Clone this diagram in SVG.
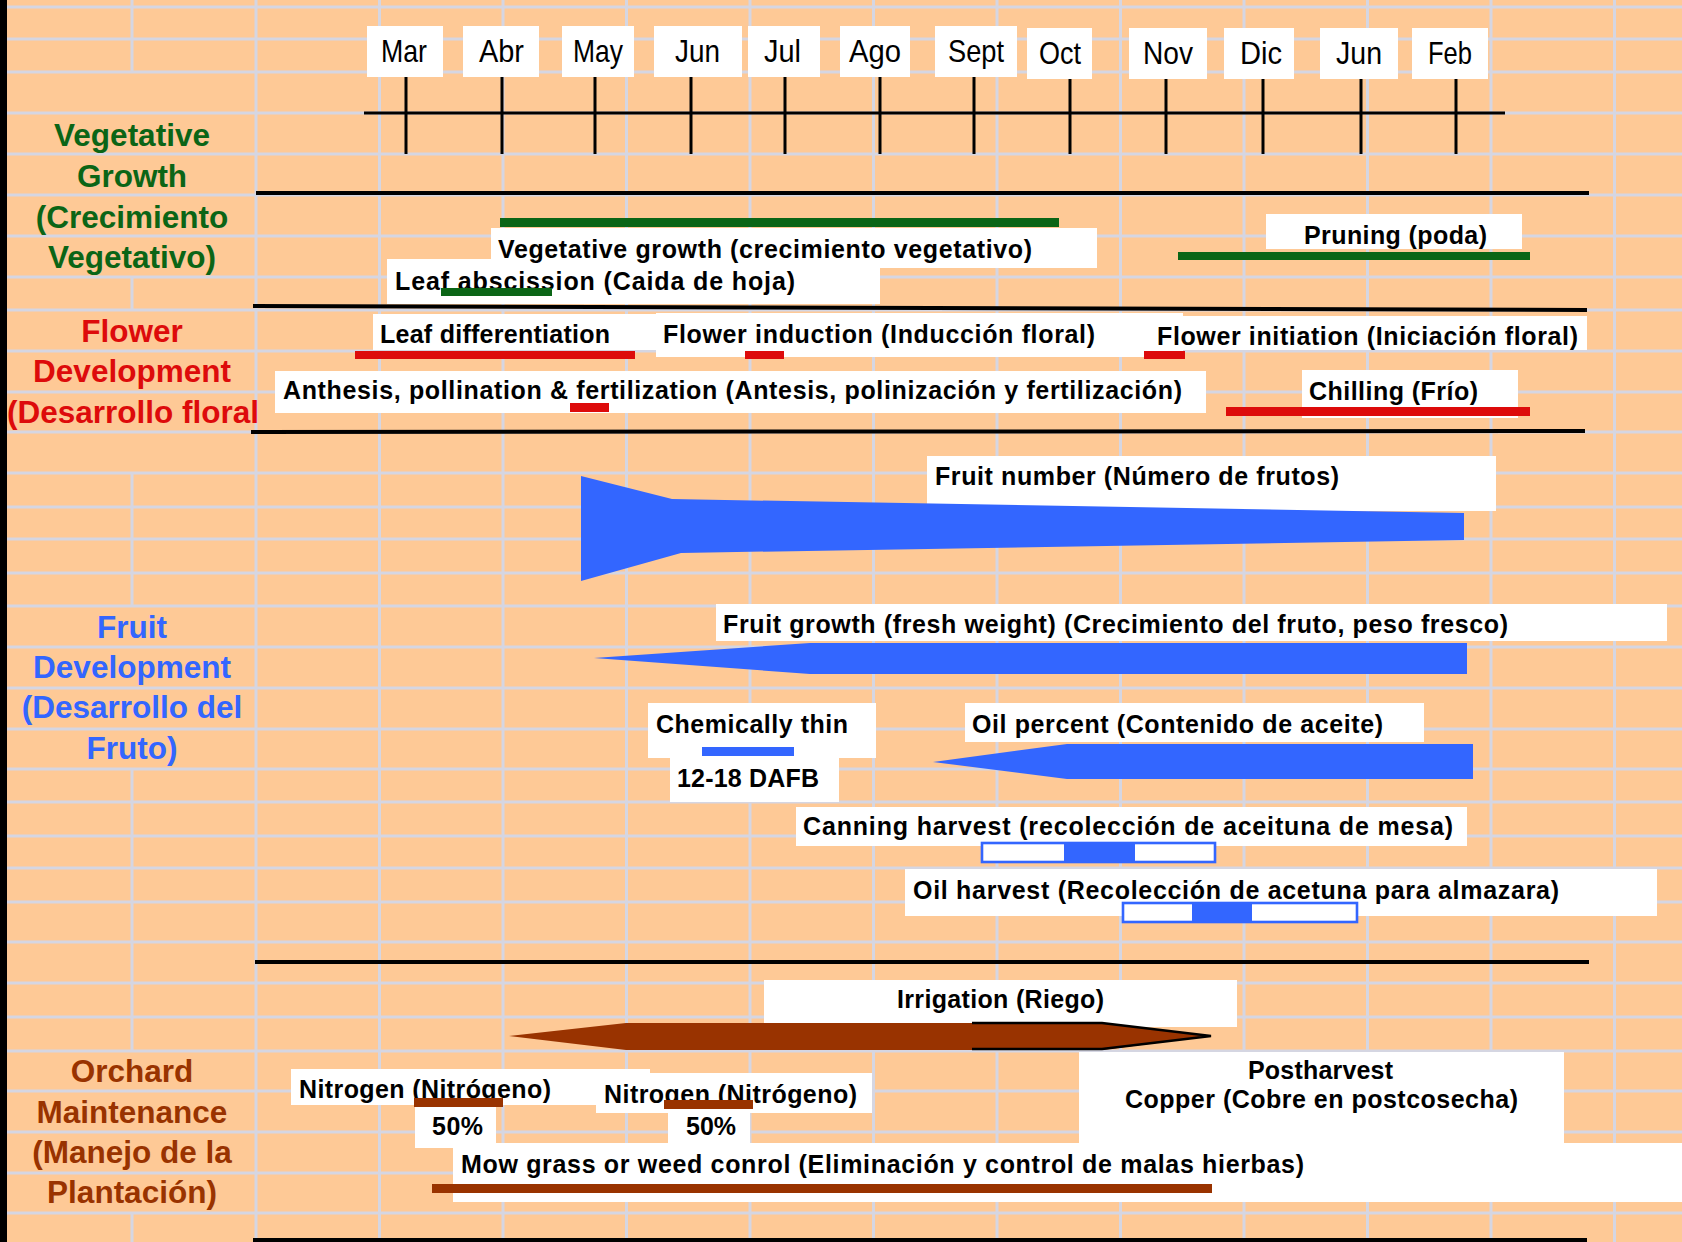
<svg xmlns="http://www.w3.org/2000/svg" width="1682" height="1242" viewBox="0 0 1682 1242">
<style>
.bg{fill:#FEC996}
.grid line{stroke:#D5D6E2;stroke-width:3}
.box{fill:#FFFFFF}
.month{font-family:"Liberation Sans",Arial,sans-serif;font-size:32px;fill:#000}
.lbl{font-family:"Liberation Sans",Arial,sans-serif;font-size:25px;font-weight:bold;fill:#000}
.sec{font-family:"Liberation Sans",Arial,sans-serif;font-size:31.5px;font-weight:bold;text-anchor:middle}
.green{fill:#0B6516}
.red{fill:#DD0B0B}
.blue{fill:#3366FF}
.brown{fill:#993300}
.axis{stroke:#000;stroke-width:3}
.sep{stroke:#000;stroke-width:4}
.hbar{fill:#FFFFFF;stroke:#3366FF;stroke-width:2.6}
</style>
<rect class="bg" x="0" y="0" width="1682" height="1242"/>
<g class="grid">
<line x1="7" y1="7" x2="1682" y2="7"/><line x1="7" y1="39" x2="1682" y2="39"/><line x1="7" y1="72" x2="1682" y2="72"/>
<line x1="7" y1="113" x2="1682" y2="113"/><line x1="7" y1="154" x2="1682" y2="154"/><line x1="7" y1="195" x2="1682" y2="195"/>
<line x1="7" y1="236" x2="1682" y2="236"/><line x1="7" y1="277" x2="1682" y2="277"/><line x1="7" y1="310" x2="1682" y2="310"/>
<line x1="7" y1="351" x2="1682" y2="351"/><line x1="7" y1="392" x2="1682" y2="392"/><line x1="7" y1="432" x2="1682" y2="432"/>
<line x1="7" y1="473" x2="1682" y2="473"/><line x1="7" y1="507" x2="1682" y2="507"/><line x1="7" y1="539" x2="1682" y2="539"/>
<line x1="7" y1="573" x2="1682" y2="573"/><line x1="7" y1="606" x2="1682" y2="606"/><line x1="7" y1="647" x2="1682" y2="647"/>
<line x1="7" y1="688" x2="1682" y2="688"/><line x1="7" y1="729" x2="1682" y2="729"/><line x1="7" y1="769" x2="1682" y2="769"/>
<line x1="7" y1="802" x2="1682" y2="802"/><line x1="7" y1="836" x2="1682" y2="836"/><line x1="7" y1="868" x2="1682" y2="868"/>
<line x1="7" y1="902" x2="1682" y2="902"/><line x1="7" y1="942" x2="1682" y2="942"/><line x1="7" y1="983" x2="1682" y2="983"/>
<line x1="7" y1="1017" x2="1682" y2="1017"/><line x1="7" y1="1051" x2="1682" y2="1051"/><line x1="7" y1="1091" x2="1682" y2="1091"/>
<line x1="7" y1="1132" x2="1682" y2="1132"/><line x1="7" y1="1173" x2="1682" y2="1173"/><line x1="7" y1="1213" x2="1682" y2="1213"/>
<line x1="256" y1="0" x2="256" y2="1242"/><line x1="379.5" y1="0" x2="379.5" y2="1242"/><line x1="503" y1="0" x2="503" y2="1242"/>
<line x1="626.5" y1="0" x2="626.5" y2="1242"/><line x1="750" y1="0" x2="750" y2="1242"/><line x1="873.5" y1="0" x2="873.5" y2="1242"/>
<line x1="997" y1="0" x2="997" y2="1242"/><line x1="1120.5" y1="0" x2="1120.5" y2="1242"/><line x1="1244" y1="0" x2="1244" y2="1242"/>
<line x1="1367.5" y1="0" x2="1367.5" y2="1242"/><line x1="1491" y1="0" x2="1491" y2="1242"/><line x1="1614.5" y1="0" x2="1614.5" y2="1242"/>
<line x1="132" y1="0" x2="132" y2="72"/><line x1="132" y1="277" x2="132" y2="310"/><line x1="132" y1="473" x2="132" y2="606"/>
<line x1="132" y1="769" x2="132" y2="1051"/><line x1="132" y1="1213" x2="132" y2="1242"/>
</g>

<g id="section-labels">
<text class="sec green" x="132"><tspan x="132" y="146">Vegetative</tspan><tspan x="132" y="187">Growth</tspan><tspan x="132" y="228">(Crecimiento</tspan><tspan x="132" y="268">Vegetativo)</tspan></text>
<text class="sec red" x="132"><tspan x="132" y="342">Flower</tspan><tspan x="132" y="382">Development</tspan><tspan x="133" y="423">(Desarrollo floral</tspan></text>
<text class="sec blue" x="132"><tspan x="132" y="638">Fruit</tspan><tspan x="132" y="678">Development</tspan><tspan x="132" y="718">(Desarrollo del</tspan><tspan x="132" y="759">Fruto)</tspan></text>
<text class="sec brown" x="132"><tspan x="132" y="1082">Orchard</tspan><tspan x="132" y="1123">Maintenance</tspan><tspan x="132" y="1163">(Manejo de la</tspan><tspan x="132" y="1203">Plantación)</tspan></text>
</g>

<g id="timeline">
<line class="axis" x1="364" y1="113" x2="1505" y2="113"/>
<g class="axis">
<line x1="406" y1="77" x2="406" y2="154"/><line x1="502" y1="77" x2="502" y2="154"/><line x1="595" y1="77" x2="595" y2="154"/>
<line x1="691" y1="77" x2="691" y2="154"/><line x1="785" y1="77" x2="785" y2="154"/><line x1="880" y1="77" x2="880" y2="154"/>
<line x1="974" y1="77" x2="974" y2="154"/><line x1="1070" y1="77" x2="1070" y2="154"/><line x1="1166" y1="77" x2="1166" y2="154"/>
<line x1="1263" y1="77" x2="1263" y2="154"/><line x1="1361" y1="77" x2="1361" y2="154"/><line x1="1456" y1="77" x2="1456" y2="154"/>
</g>
<g id="m-mar"><rect class="box" x="367" y="26" width="76" height="51"/><text class="month" x="381" y="62" textLength="46" lengthAdjust="spacingAndGlyphs">Mar</text></g>
<g id="m-abr"><rect class="box" x="463" y="26" width="76" height="51"/><text class="month" x="479" y="62" textLength="45" lengthAdjust="spacingAndGlyphs">Abr</text></g>
<g id="m-may"><rect class="box" x="562" y="26" width="72" height="51"/><text class="month" x="573" y="62" textLength="50" lengthAdjust="spacingAndGlyphs">May</text></g>
<g id="m-jun"><rect class="box" x="654" y="26" width="88" height="51"/><text class="month" x="675" y="62" textLength="45" lengthAdjust="spacingAndGlyphs">Jun</text></g>
<g id="m-jul"><rect class="box" x="748" y="26" width="72" height="51"/><text class="month" x="764" y="62" textLength="37" lengthAdjust="spacingAndGlyphs">Jul</text></g>
<g id="m-ago"><rect class="box" x="840" y="26" width="70" height="51"/><text class="month" x="849" y="62" textLength="52" lengthAdjust="spacingAndGlyphs">Ago</text></g>
<g id="m-sept"><rect class="box" x="935" y="26" width="82" height="51"/><text class="month" x="948" y="62" textLength="56" lengthAdjust="spacingAndGlyphs">Sept</text></g>
<g id="m-oct"><rect class="box" x="1027" y="28" width="65" height="51"/><text class="month" x="1039" y="64" textLength="42" lengthAdjust="spacingAndGlyphs">Oct</text></g>
<g id="m-nov"><rect class="box" x="1129" y="28" width="78" height="51"/><text class="month" x="1143" y="64" textLength="50" lengthAdjust="spacingAndGlyphs">Nov</text></g>
<g id="m-dic"><rect class="box" x="1224" y="28" width="70" height="51"/><text class="month" x="1240" y="64" textLength="42" lengthAdjust="spacingAndGlyphs">Dic</text></g>
<g id="m-jun2"><rect class="box" x="1320" y="28" width="78" height="51"/><text class="month" x="1336" y="64" textLength="46" lengthAdjust="spacingAndGlyphs">Jun</text></g>
<g id="m-feb"><rect class="box" x="1412" y="28" width="76" height="51"/><text class="month" x="1428" y="64" textLength="44" lengthAdjust="spacingAndGlyphs">Feb</text></g>
</g>

<g id="separators">
<line class="sep" x1="256" y1="193" x2="1589" y2="193"/>
<line class="sep" x1="253" y1="306" x2="1587" y2="310"/>
<line class="sep" x1="251" y1="432" x2="1585" y2="431"/>
<line class="sep" x1="255" y1="962" x2="1589" y2="962"/>
<line class="sep" x1="253" y1="1240" x2="1587" y2="1240"/>
</g>

<g id="leaf-abscission"><rect class="box" x="387" y="259" width="493" height="45"/><text class="lbl" x="395" y="290" textLength="400" lengthAdjust="spacing">Leaf abscission (Caida de hoja)</text><rect class="green" x="441" y="288" width="111" height="8"/></g>
<g id="veg-growth"><rect class="green" x="500" y="218" width="559" height="9"/><rect class="box" x="491" y="228" width="606" height="40"/><text class="lbl" x="498" y="258" textLength="534" lengthAdjust="spacing">Vegetative growth (crecimiento vegetativo)</text></g>
<g id="pruning"><rect class="box" x="1266" y="214" width="256" height="35"/><text class="lbl" x="1304" y="244" textLength="183" lengthAdjust="spacing">Pruning (poda)</text><rect class="green" x="1178" y="252" width="352" height="8"/></g>

<g id="flower-initiation"><rect class="box" x="1150" y="316" width="437" height="34"/></g>
<g id="leaf-diff"><rect class="box" x="373" y="314" width="283" height="36"/><text class="lbl" x="380" y="343" textLength="230" lengthAdjust="spacing">Leaf differentiation</text><rect class="red" x="355" y="351" width="280" height="8"/></g>
<g id="flower-induction"><rect class="box" x="656" y="313" width="527" height="44"/><text class="lbl" x="663" y="343" textLength="432" lengthAdjust="spacing">Flower induction (Inducción floral)</text><rect class="red" x="745" y="351" width="39" height="8"/></g>
<g id="flower-initiation-label"><text class="lbl" x="1157" y="345" textLength="421" lengthAdjust="spacing">Flower initiation (Iniciación floral)</text><rect class="red" x="1144" y="351" width="41" height="8"/></g>
<g id="anthesis"><rect class="box" x="275" y="371" width="931" height="42"/><text class="lbl" x="283" y="399" textLength="899" lengthAdjust="spacing">Anthesis, pollination &amp; fertilization (Antesis, polinización y fertilización)</text><rect class="red" x="570" y="403" width="39" height="9"/></g>
<g id="chilling"><rect class="box" x="1302" y="370" width="216" height="48"/><text class="lbl" x="1309" y="400" textLength="169" lengthAdjust="spacing">Chilling (Frío)</text><rect class="red" x="1226" y="407" width="304" height="9"/></g>

<g id="fruit-number"><rect class="box" x="927" y="456" width="569" height="55"/><text class="lbl" x="935" y="485" textLength="404" lengthAdjust="spacing">Fruit number (Número de frutos)</text><polygon class="blue" points="581,476 672,499 1464,513 1464,540 681,553 581,581"/></g>
<g id="fruit-growth"><rect class="box" x="716" y="604" width="951" height="37"/><text class="lbl" x="723" y="633" textLength="785" lengthAdjust="spacing">Fruit growth (fresh weight) (Crecimiento del fruto, peso fresco)</text><polygon class="blue" points="594,658 810,643 1467,643 1467,674 810,674"/></g>
<g id="chem-thin"><rect class="box" x="648" y="703" width="228" height="55"/><text class="lbl" x="656" y="733" textLength="192" lengthAdjust="spacing">Chemically thin</text><rect class="blue" x="702" y="747" width="92" height="9"/></g>
<g id="dafb"><rect class="box" x="670" y="758" width="169" height="44"/><text class="lbl" x="677" y="787" textLength="142" lengthAdjust="spacing">12-18 DAFB</text></g>
<g id="oil-percent"><rect class="box" x="965" y="703" width="459" height="39"/><text class="lbl" x="972" y="733" textLength="411" lengthAdjust="spacing">Oil percent (Contenido de aceite)</text><polygon class="blue" points="933,762 1067,744 1473,744 1473,779 1067,779"/></g>
<g id="canning"><rect class="box" x="796" y="807" width="671" height="39"/><text class="lbl" x="803" y="835" textLength="650" lengthAdjust="spacing">Canning harvest (recolección de aceituna de mesa)</text><rect class="hbar" x="982" y="843" width="233" height="19"/><rect class="blue" x="1064" y="843" width="71" height="19"/></g>
<g id="oil-harvest"><rect class="box" x="905" y="869" width="752" height="47"/><text class="lbl" x="913" y="899" textLength="646" lengthAdjust="spacing">Oil harvest (Recolección de acetuna para almazara)</text><rect class="hbar" x="1123" y="903" width="234" height="19"/><rect class="blue" x="1192" y="903" width="60" height="19"/></g>

<g id="irrigation"><rect class="box" x="764" y="980" width="473" height="47"/><text class="lbl" x="897" y="1008" textLength="207" lengthAdjust="spacing">Irrigation (Riego)</text><polygon class="brown" points="509,1036 626,1023 1102,1023 1211,1036 1102,1050 626,1050"/><polyline points="972,1023 1102,1023 1211,1036 1102,1049 972,1049" fill="none" stroke="#000" stroke-width="2.5"/></g>
<g id="nitrogen1"><rect class="box" x="291" y="1069" width="359" height="36"/><text class="lbl" x="299" y="1098" textLength="252" lengthAdjust="spacing">Nitrogen (Nitrógeno)</text><rect class="brown" x="414" y="1098" width="89" height="9"/><rect class="box" x="415" y="1107" width="81" height="41"/><text class="lbl" x="432" y="1135" textLength="51" lengthAdjust="spacing">50%</text></g>
<g id="nitrogen2"><rect class="box" x="596" y="1073" width="276" height="40"/><text class="lbl" x="604" y="1103" textLength="253" lengthAdjust="spacing">Nitrogen (Nitrógeno)</text><rect class="brown" x="664" y="1100" width="89" height="9"/><rect class="box" x="668" y="1113" width="82" height="30"/><text class="lbl" x="686" y="1135" textLength="50" lengthAdjust="spacing">50%</text></g>
<g id="copper"><rect class="box" x="1079" y="1052" width="485" height="91"/><text class="lbl" x="1248" y="1079" textLength="145" lengthAdjust="spacing">Postharvest</text><text class="lbl" x="1125" y="1108" textLength="393" lengthAdjust="spacing">Copper (Cobre en postcosecha)</text></g>
<g id="mow"><rect class="box" x="453" y="1143" width="1229" height="59"/><text class="lbl" x="461" y="1173" textLength="843" lengthAdjust="spacing">Mow grass or weed conrol (Eliminación y control de malas hierbas)</text><rect class="brown" x="432" y="1184" width="780" height="9"/></g>

<rect x="0" y="0" width="7" height="1242" fill="#000"/>
</svg>
